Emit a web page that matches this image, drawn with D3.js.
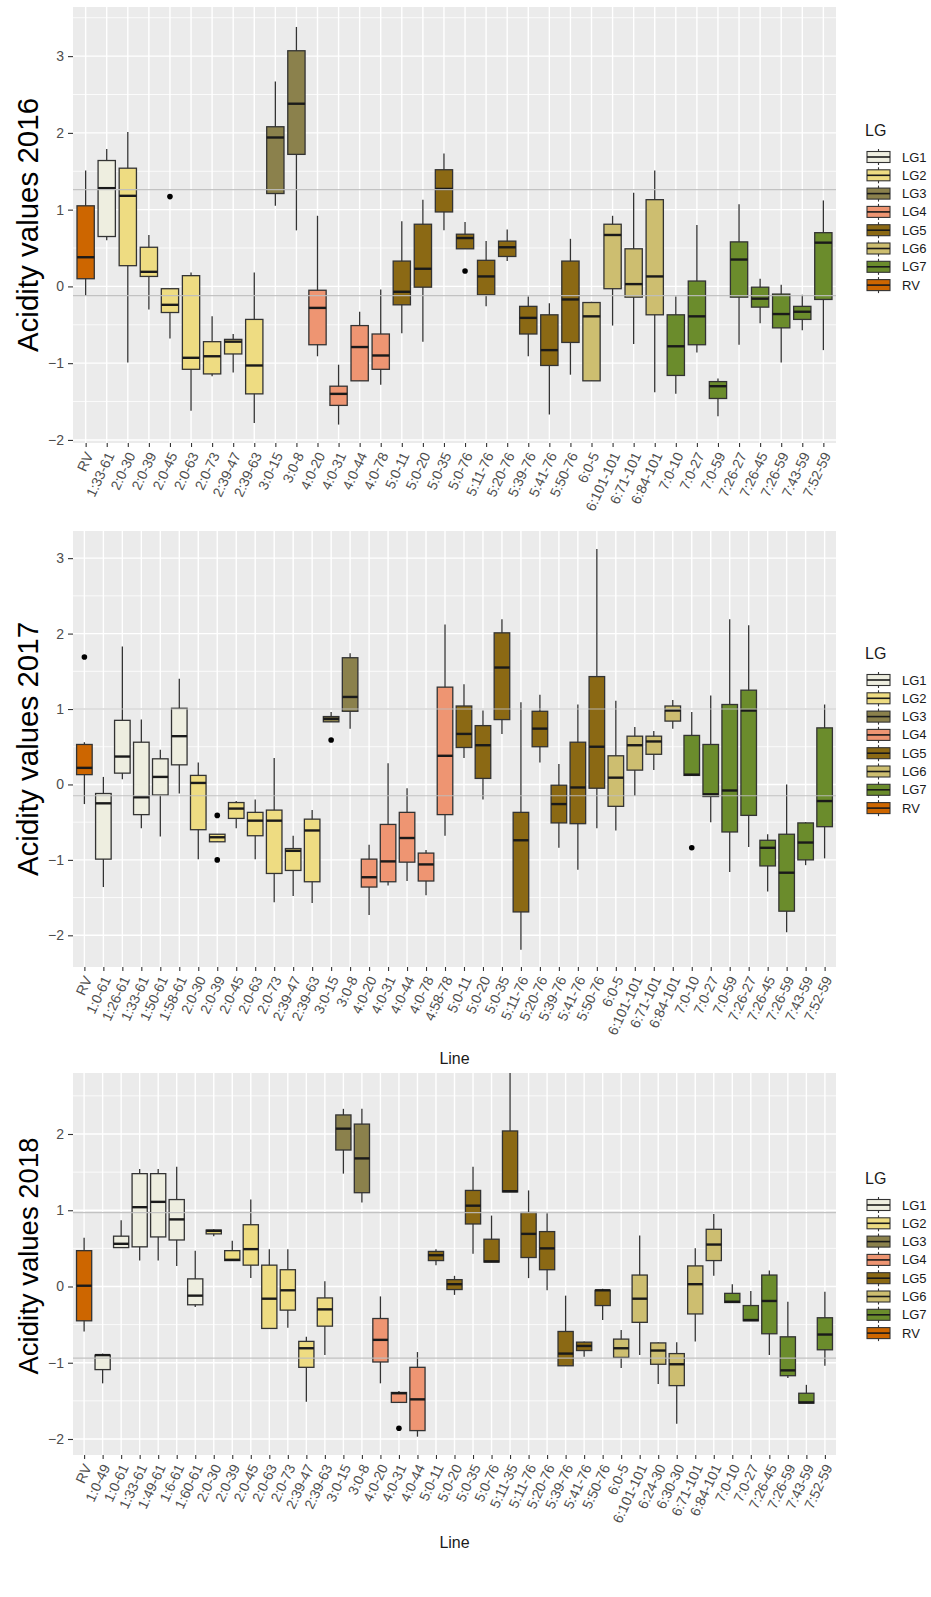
<!DOCTYPE html>
<html><head><meta charset="utf-8">
<script src="https://cdn.jsdelivr.net/npm/d3@7"></script>
<style>
body{margin:0;background:#fff}
svg{display:block}
text{font-family:"Liberation Sans",Arial,Helvetica,sans-serif}
</style>
</head><body>
<svg id="chart" width="931" height="1597"></svg>
<script>
// ---------------- DATA ----------------
const lgNames  = ["LG1","LG2","LG3","LG4","LG5","LG6","LG7","RV"];
const lgColors = ["#EEEEE0","#EEDC82","#8B814C","#EE9572","#8B6914","#CDBE70","#6B8C2C","#CD6600"];

// 2016
const lines2016 = ["RV","1:33-61","2:0-30","2:0-39","2:0-45","2:0-63","2:0-73","2:39-47","2:39-63","3:0-15","3:0-8","4:0-20","4:0-31","4:0-44","4:0-78","5:0-11","5:0-20","5:0-35","5:0-76","5:11-76","5:20-76","5:39-76","5:41-76","5:50-76","6:0-5","6:101-101","6:71-101","6:84-101","7:0-10","7:0-27","7:0-59","7:26-27","7:26-45","7:26-59","7:43-59","7:52-59"];
// [lower whisker, q1, median, q3, upper whisker]
const stats2016 = [
 [-0.12,0.10,0.38,1.05,1.51],[0.60,0.65,1.28,1.64,1.79],[-0.99,0.27,1.18,1.54,2.01],[-0.30,0.13,0.19,0.51,0.67],
 [-0.68,-0.34,-0.24,-0.03,-0.03],[-1.62,-1.08,-0.93,0.14,0.18],[-1.17,-1.14,-0.91,-0.72,-0.39],[-1.12,-0.88,-0.72,-0.69,-0.62],
 [-1.78,-1.40,-1.03,-0.43,0.18],[1.05,1.21,1.94,2.08,2.67],[0.73,1.72,2.38,3.07,3.38],[-0.91,-0.76,-0.28,-0.05,0.92],
 [-1.80,-1.55,-1.40,-1.30,-1.02],[-1.23,-1.23,-0.79,-0.51,-0.33],[-1.28,-1.08,-0.90,-0.62,-0.04],[-0.61,-0.24,-0.07,0.33,0.85],
 [-0.72,-0.01,0.23,0.81,1.13],[0.73,0.97,1.27,1.52,1.73],[0.49,0.49,0.63,0.68,0.84],[-0.26,-0.11,0.13,0.34,0.59],
 [0.33,0.39,0.51,0.59,0.74],[-0.91,-0.62,-0.41,-0.26,-0.13],[-1.67,-1.03,-0.83,-0.37,-0.22],[-1.15,-0.73,-0.17,0.33,0.62],
 [-1.23,-1.23,-0.39,-0.21,-0.20],[-0.51,-0.03,0.67,0.81,0.92],[-0.75,-0.14,0.03,0.49,1.22],[-1.38,-0.37,0.13,1.13,1.51],
 [-1.40,-1.16,-0.78,-0.37,-0.13],[-0.86,-0.76,-0.39,0.07,0.80],[-1.69,-1.46,-1.30,-1.24,-1.20],[-0.76,-0.14,0.35,0.58,1.07],
 [-0.48,-0.27,-0.16,-0.01,0.10],[-0.99,-0.54,-0.36,-0.10,0.02],[-0.57,-0.43,-0.33,-0.26,-0.11],[-0.83,-0.17,0.57,0.70,1.12]
];
const outliers2016 = [["2:0-45",1.17],["5:0-76",0.20]];
const refLines2016 = [1.26,-0.12];
const yTicks2016 = [-2,-1,0,1,2,3];

// 2017
const lines2017 = ["RV","1:0-61","1:26-61","1:33-61","1:50-61","1:58-61","2:0-30","2:0-39","2:0-45","2:0-63","2:0-73","2:39-47","2:39-63","3:0-15","3:0-8","4:0-20","4:0-31","4:0-44","4:0-78","4:58-78","5:0-11","5:0-20","5:0-35","5:11-76","5:20-76","5:39-76","5:41-76","5:50-76","6:0-5","6:101-101","6:71-101","6:84-101","7:0-10","7:0-27","7:0-59","7:26-27","7:26-45","7:26-59","7:43-59","7:52-59"];
const stats2017 = [
 [-0.26,0.13,0.22,0.53,0.56],[-1.36,-0.99,-0.25,-0.12,0.10],[0.07,0.15,0.37,0.85,1.83],[-0.58,-0.40,-0.17,0.56,0.86],
 [-0.69,-0.14,0.10,0.34,0.46],[-0.12,0.26,0.64,1.01,1.40],[-0.99,-0.60,0.02,0.12,0.29],[-0.76,-0.76,-0.70,-0.66,-0.66],
 [-0.58,-0.45,-0.32,-0.24,-0.22],[-0.99,-0.68,-0.48,-0.37,-0.20],[-1.56,-1.18,-0.48,-0.34,0.35],[-1.48,-1.14,-0.88,-0.85,-0.68],
 [-1.57,-1.29,-0.61,-0.46,-0.34],[0.83,0.83,0.87,0.90,0.96],[0.74,0.97,1.16,1.68,1.74],[-1.73,-1.36,-1.23,-0.99,-0.80],
 [-1.34,-1.29,-1.02,-0.53,0.28],[-1.28,-1.03,-0.71,-0.37,-0.05],[-1.47,-1.28,-1.06,-0.91,-0.87],[-0.68,-0.40,0.38,1.29,2.12],
 [0.35,0.49,0.67,1.04,1.33],[-0.20,0.08,0.52,0.78,0.98],[0.67,0.86,1.55,2.01,2.19],[-2.19,-1.69,-0.74,-0.37,1.09],
 [0.29,0.50,0.74,0.97,1.19],[-0.84,-0.51,-0.26,-0.01,0.27],[-1.13,-0.52,-0.04,0.56,1.06],[-0.58,-0.05,0.50,1.43,3.12],
 [-0.61,-0.29,0.09,0.38,1.11],[-0.15,0.19,0.52,0.64,0.76],[0.19,0.40,0.57,0.64,0.71],[0.74,0.84,0.98,1.04,1.12],
 [0.12,0.12,0.13,0.65,0.96],[-0.50,-0.16,-0.13,0.53,1.18],[-1.16,-0.63,-0.08,1.06,2.19],[-0.83,-0.41,0.98,1.25,2.11],
 [-1.42,-1.08,-0.84,-0.74,-0.66],[-1.96,-1.68,-1.17,-0.66,0.00],[-1.07,-1.00,-0.77,-0.51,-0.50],[-0.98,-0.56,-0.22,0.75,1.06]
];
const outliers2017 = [["RV",1.69],["2:0-39",-0.41],["2:0-39",-1.00],["3:0-15",0.59],["7:0-10",-0.84]];
const refLines2017 = [1.00,-0.15];
const yTicks2017 = [-2,-1,0,1,2,3];

// 2018
const lines2018 = ["RV","1:0-49","1:0-61","1:33-61","1:49-61","1:6-61","1:60-61","2:0-30","2:0-39","2:0-45","2:0-63","2:0-73","2:39-47","2:39-63","3:0-15","3:0-8","4:0-20","4:0-31","4:0-44","5:0-11","5:0-20","5:0-35","5:0-76","5:11-35","5:11-76","5:20-76","5:39-76","5:41-76","5:50-76","6:0-5","6:101-101","6:24-30","6:30-30","6:71-101","6:84-101","7:0-10","7:0-27","7:26-45","7:26-59","7:43-59","7:52-59"];
const stats2018 = [
 [-0.59,-0.45,0.01,0.47,0.64],[-1.27,-1.09,-0.90,-0.90,-0.88],[0.51,0.51,0.56,0.66,0.87],[0.34,0.52,1.04,1.48,1.54],
 [0.34,0.65,1.11,1.48,1.54],[0.27,0.61,0.88,1.14,1.57],[-0.27,-0.24,-0.12,0.10,0.47],[0.66,0.69,0.73,0.74,0.75],
 [0.34,0.34,0.35,0.47,0.60],[0.11,0.28,0.49,0.81,1.14],[-0.55,-0.55,-0.16,0.28,0.49],[-0.54,-0.31,-0.05,0.22,0.49],
 [-1.51,-1.06,-0.81,-0.72,-0.66],[-0.90,-0.52,-0.30,-0.15,0.07],[1.48,1.79,2.07,2.25,2.33],[1.10,1.23,1.68,2.13,2.33],
 [-1.27,-0.99,-0.70,-0.42,-0.13],[-1.52,-1.52,-1.40,-1.39,-1.37],[-1.97,-1.89,-1.48,-1.06,-0.86],[0.28,0.34,0.41,0.46,0.49],
 [-0.11,-0.04,0.03,0.09,0.14],[0.43,0.82,1.06,1.26,1.57],[0.32,0.32,0.33,0.62,0.93],[1.24,1.24,1.25,2.04,2.80],
 [0.11,0.38,0.69,0.97,1.26],[-0.05,0.22,0.50,0.72,0.96],[-1.04,-1.04,-0.88,-0.59,-0.12],[-0.92,-0.84,-0.78,-0.73,-0.72],
 [-0.44,-0.25,-0.05,-0.05,-0.03],[-1.07,-0.93,-0.81,-0.69,-0.57],[-0.90,-0.47,-0.16,0.15,0.67],[-1.28,-1.02,-0.84,-0.74,-0.73],
 [-1.80,-1.30,-1.02,-0.88,-0.73],[-0.72,-0.36,0.03,0.27,0.50],[0.14,0.34,0.55,0.75,0.95],[-0.21,-0.21,-0.20,-0.09,0.03],
 [-0.45,-0.45,-0.44,-0.25,-0.06],[-0.90,-0.62,-0.19,0.15,0.21],[-1.20,-1.17,-1.10,-0.66,-0.20],[-1.53,-1.53,-1.52,-1.40,-1.29],
 [-1.04,-0.83,-0.63,-0.41,-0.07]
];
const outliers2018 = [["4:0-31",-1.86]];
const refLines2018 = [0.97,-0.94];
const yTicks2018 = [-2,-1,0,1,2];

// ---------------- LAYOUT ----------------
const panels = [
 {lines:lines2016, stats:stats2016, outliers:outliers2016, refs:refLines2016, ticks:yTicks2016,
  title:"Acidity values 2016", top:7, bottom:443, domain:[-2.04,3.64], titleSize:29.5, titleCy:225, legendTop:130, xTitleY:null},
 {lines:lines2017, stats:stats2017, outliers:outliers2017, refs:refLines2017, ticks:yTicks2017,
  title:"Acidity values 2017", top:531, bottom:967, domain:[-2.42,3.36], titleSize:29.5, titleCy:749, legendTop:653, xTitleY:1058},
 {lines:lines2018, stats:stats2018, outliers:outliers2018, refs:refLines2018, ticks:yTicks2018,
  title:"Acidity values 2018", top:1073, bottom:1455, domain:[-2.21,2.80], titleSize:27.5, titleCy:1256, legendTop:1178, xTitleY:1542}
];
const left = 73, right = 836;
const colorOf = d3.scaleOrdinal().domain(lgNames).range(lgColors);
const lgOf = name => name === "RV" ? "RV" : "LG" + name.split(":")[0];

const svg = d3.select("#chart");

panels.forEach((p, pi) => {
  const x = d3.scalePoint().domain(p.lines).range([left, right]).padding(0.6);
  const y = d3.scaleLinear().domain(p.domain).range([p.bottom, p.top]);
  const step = x.step();
  const bw = step * 0.82;
  const g = svg.append("g");

  const clipId = "clip" + pi;
  svg.append("defs").append("clipPath").attr("id", clipId)
    .append("rect").attr("x", left).attr("y", p.top).attr("width", right-left).attr("height", p.bottom-p.top);

  g.append("rect").attr("x", left).attr("y", p.top).attr("width", right-left).attr("height", p.bottom-p.top)
    .attr("fill", "#EBEBEB");

  // minor gridlines
  const minor = [];
  for (let v = Math.ceil(p.domain[0]*2)/2; v <= p.domain[1]; v += 0.5) {
    if (Math.abs(v - Math.round(v)) > 0.01) minor.push(v);
  }
  g.selectAll(".minor").data(minor).join("line")
    .attr("x1", left).attr("x2", right).attr("y1", d=>y(d)).attr("y2", d=>y(d))
    .attr("stroke", "#fff").attr("stroke-width", 0.8);
  // major gridlines
  g.selectAll(".majy").data(p.ticks).join("line")
    .attr("x1", left).attr("x2", right).attr("y1", d=>y(d)).attr("y2", d=>y(d))
    .attr("stroke", "#fff").attr("stroke-width", 1.4);
  g.selectAll(".majx").data(p.lines).join("line")
    .attr("x1", d=>x(d)).attr("x2", d=>x(d)).attr("y1", p.top).attr("y2", p.bottom)
    .attr("stroke", "#fff").attr("stroke-width", 1.4);

  // boxes
  const boxes = g.append("g").attr("clip-path", `url(#${clipId})`);
  const bdata = p.lines.map((l, i) => ({line:l, s:p.stats[i]}));
  const bg = boxes.selectAll("g.box").data(bdata).join("g").attr("class","box");
  bg.append("line").attr("x1", d=>x(d.line)).attr("x2", d=>x(d.line))
    .attr("y1", d=>y(d.s[4])).attr("y2", d=>y(d.s[0]))
    .attr("stroke", "#333").attr("stroke-width", 1.3);
  bg.append("rect").attr("x", d=>x(d.line)-bw/2).attr("width", bw)
    .attr("y", d=>y(d.s[3])).attr("height", d=>Math.max(0.5, y(d.s[1])-y(d.s[3])))
    .attr("fill", d=>colorOf(lgOf(d.line))).attr("stroke", "#333").attr("stroke-width", 1.3);
  bg.append("line").attr("x1", d=>x(d.line)-bw/2).attr("x2", d=>x(d.line)+bw/2)
    .attr("y1", d=>y(d.s[2])).attr("y2", d=>y(d.s[2]))
    .attr("stroke", "#1a1a1a").attr("stroke-width", 2.4);
  boxes.selectAll("circle").data(p.outliers).join("circle")
    .attr("cx", d=>x(d[0])).attr("cy", d=>y(d[1])).attr("r", 2.8).attr("fill", "#000");

  // reference lines
  g.selectAll(".ref").data(p.refs).join("line")
    .attr("x1", left).attr("x2", right).attr("y1", d=>y(d)).attr("y2", d=>y(d))
    .attr("stroke", "#BEBEBE").attr("stroke-width", 1.2).attr("opacity", 0.9);

  // y axis
  const ya = g.append("g").attr("transform", `translate(${left},0)`)
    .call(d3.axisLeft(y).tickValues(p.ticks).tickSize(5).tickPadding(4).tickFormat(d3.format("d")));
  ya.select(".domain").remove();
  ya.selectAll("line").attr("stroke", "#333").attr("stroke-width", 1.1);
  ya.selectAll("text").attr("fill", "#4D4D4D").attr("font-size", 14)
    .attr("font-family", '"Liberation Sans",Arial,sans-serif');

  // x axis
  const xa = g.append("g").attr("transform", `translate(0,${p.bottom})`)
    .call(d3.axisBottom(x).tickSize(4).tickPadding(0));
  xa.select(".domain").remove();
  xa.selectAll("line").attr("stroke", "#333").attr("stroke-width", 1.1);
  xa.selectAll("text")
    .attr("fill", "#4D4D4D").attr("font-size", 14)
    .attr("font-family", '"Liberation Sans",Arial,sans-serif')
    .attr("text-anchor", "end").attr("y", 0).attr("dy", "0.35em")
    .attr("transform", "translate(3,10) rotate(-65)");

  // y title
  svg.append("text").attr("transform", `translate(38,${p.titleCy}) rotate(-90)`)
    .attr("text-anchor", "middle").attr("font-size", p.titleSize).attr("fill", "#000").text(p.title);

  // x title
  if (p.xTitleY !== null) {
    svg.append("text").attr("x", (left+right)/2).attr("y", p.xTitleY).attr("dy", "0.35em")
      .attr("text-anchor", "middle").attr("font-size", 16).attr("fill", "#1a1a1a").text("Line");
  }

  // legend
  const lg = svg.append("g");
  lg.append("text").attr("x", 865).attr("y", p.legendTop).attr("dy", "0.35em")
    .attr("font-size", 16).attr("fill", "#1a1a1a").text("LG");
  const items = lg.selectAll("g.item").data(lgNames).join("g").attr("class","item")
    .attr("transform", (d,i) => `translate(867,${p.legendTop + 27 + i*18.3})`);
  items.append("line").attr("x1", 11.5).attr("x2", 11.5).attr("y1", -8).attr("y2", 8)
    .attr("stroke", "#333").attr("stroke-width", 1.1);
  items.append("rect").attr("x", 0).attr("y", -5.5).attr("width", 23).attr("height", 11)
    .attr("fill", d=>colorOf(d)).attr("stroke", "#333").attr("stroke-width", 1.1);
  items.append("line").attr("x1", 0).attr("x2", 23).attr("y1", 0).attr("y2", 0)
    .attr("stroke", "#1a1a1a").attr("stroke-width", 1.6);
  items.append("text").attr("x", 35).attr("y", 0).attr("dy", "0.35em")
    .attr("font-size", 13).attr("fill", "#1a1a1a").text(d=>d);
});
</script>
</body></html>
